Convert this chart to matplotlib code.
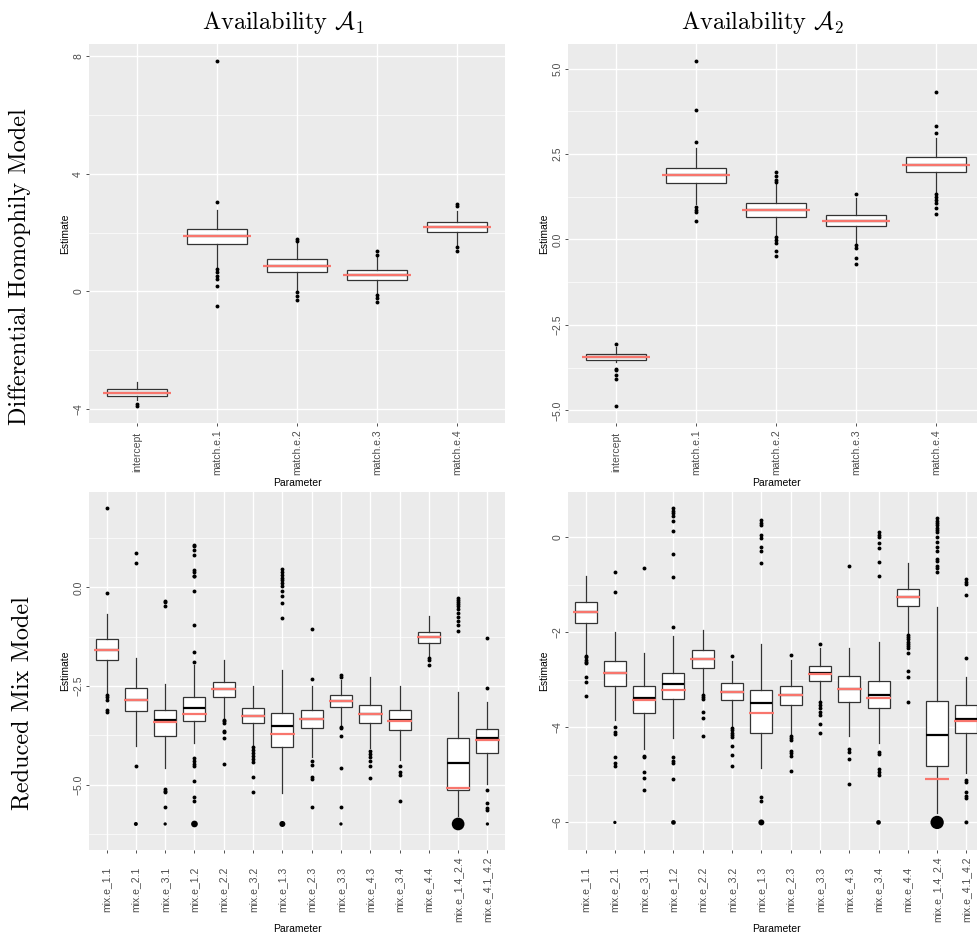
import matplotlib.pyplot as plt

plt.rcParams['mathtext.fontset'] = 'cm'
plt.rcParams['font.family'] = ['Liberation Sans', 'DejaVu Sans']

# ---------------- data ----------------
dh_names = ["intercept", "match.e.1", "match.e.2", "match.e.3", "match.e.4"]

# Differential homophily model, availability A1
a1_q1 = [-3.54, 1.61, 0.66, 0.40, 2.03]
a1_med = [-3.44, 1.88, 0.86, 0.56, 2.20]
a1_q3 = [-3.33, 2.12, 1.09, 0.73, 2.36]
a1_lo = [-3.70, 0.83, 0.03, -0.08, 1.56]
a1_hi = [-3.06, 2.78, 1.65, 1.17, 2.75]
a1_mean = [-3.44, 1.88, 0.86, 0.56, 2.20]
a1_fliers = [[-3.82, -3.88],
             [3.03, 7.82, 0.77, 0.66, 0.54, 0.43, 0.20, -0.48],
             [1.79, 1.73, -0.02, -0.17, -0.28],
             [1.36, 1.25, -0.11, -0.23, -0.36],
             [2.96, 2.90, 1.51, 1.36]]

# Differential homophily model, availability A2
a2_q1 = [-3.54, 1.65, 0.66, 0.38, 1.98]
a2_med = [-3.45, 1.88, 0.86, 0.55, 2.19]
a2_q3 = [-3.34, 2.10, 1.06, 0.73, 2.40]
a2_lo = [-3.58, 1.05, 0.13, -0.12, 1.35]
a2_hi = [-3.14, 2.67, 1.64, 1.20, 2.96]
a2_mean = [-3.45, 1.88, 0.86, 0.55, 2.19]
a2_fliers = [[-3.05, -3.78, -3.83, -3.97, -4.07, -4.86],
             [2.86, 3.79, 5.22, 0.96, 0.86, 0.81, 0.55],
             [1.96, 1.87, 1.74, 1.69, 0.06, -0.02, -0.09, -0.33, -0.48],
             [1.32, -0.17, -0.26, -0.53, -0.73],
             [3.11, 3.32, 4.31, 1.32, 1.25, 1.15, 1.08, 0.91, 0.74]]

mix_names = ["mix.e_1.1", "mix.e_2.1", "mix.e_3.1", "mix.e_1.2", "mix.e_2.2",
             "mix.e_3.2", "mix.e_1.3", "mix.e_2.3", "mix.e_3.3", "mix.e_4.3",
             "mix.e_3.4", "mix.e_4.4", "mix.e_1.4_2.4", "mix.e_4.1_4.2"]

# Reduced mix model, availability A1
b1_q1 = [-1.84, -3.14, -3.76, -3.38, -2.77, -3.44, -4.06, -3.57, -3.03, -3.45, -3.61, -1.40, -5.14, -4.19]
b1_med = [-1.58, -2.86, -3.37, -3.06, -2.57, -3.25, -3.52, -3.33, -2.88, -3.21, -3.36, -1.26, -4.46, -3.82]
b1_q3 = [-1.30, -2.56, -3.10, -2.78, -2.39, -3.06, -3.19, -3.10, -2.74, -2.99, -3.10, -1.13, -3.81, -3.59]
b1_lo = [-2.68, -4.01, -4.59, -3.95, -3.32, -4.01, -5.22, -4.29, -3.49, -4.08, -4.37, -1.75, -5.81, -4.98]
b1_hi = [-0.68, -1.79, -2.44, -1.96, -1.84, -2.51, -2.09, -2.50, -2.34, -2.28, -2.50, -0.72, -2.66, -2.91]
b1_mean = [-1.58, -2.86, -3.42, -3.21, -2.57, -3.25, -3.71, -3.33, -2.88, -3.21, -3.38, -1.26, -5.09, -3.88]
b1_fliers = [[-0.14, 2.01, -2.72, -2.77, -2.85, -3.10, -3.15],
             [0.88, 0.61, -4.54],
             [-0.34, -0.38, -0.48, -5.12, -5.16, -5.20, -5.58],
             [-1.88, -1.65, -0.96, -0.08, 0.28, 0.30, 0.40, 0.45, 0.83, 0.96, 1.05, 1.08,
              -4.33, -4.40, -4.48, -4.54, -4.92, -5.32, -5.41],
             [-3.36, -3.40, -3.44, -3.63, -3.67, -3.82, -4.48],
             [-4.04, -4.12, -4.20, -4.28, -4.36, -4.44, -4.80, -5.19],
             [-0.78, -0.40, -0.23, -0.10, 0.03, 0.10, 0.18, 0.25, 0.32, 0.40, 0.47],
             [-2.33, -1.05, -4.40, -4.50, -4.82, -4.86, -5.58],
             [-2.23, -2.28, -3.53, -3.57, -3.76, -4.58, -5.56],
             [-4.14, -4.22, -4.30, -4.40, -4.54, -4.84],
             [-4.52, -4.67, -4.75, -5.41],
             [-1.79, -1.84, -1.98],
             [-0.27, -0.32, -0.37, -0.42, -0.48, -0.55, -0.65, -0.75, -0.85, -0.95, -1.10],
             [-2.55, -1.29, -5.15, -5.46, -5.60, -5.64]]
# dot diameter (px) of the pile of estimates stuck at -6
b1_floor = [0, 4, 3.3, 6.7, 0, 0, 6, 0, 3.3, 0, 0, 0, 12.7, 3.3]

# Reduced mix model, availability A2
b2_q1 = [-1.81, -3.12, -3.69, -3.40, -2.76, -3.43, -4.11, -3.54, -3.02, -3.47, -3.59, -1.45, -4.81, -4.11]
b2_med = [-1.57, -2.85, -3.38, -3.09, -2.57, -3.25, -3.48, -3.33, -2.85, -3.20, -3.31, -1.26, -4.16, -3.82]
b2_q3 = [-1.36, -2.60, -3.12, -2.86, -2.38, -3.07, -3.22, -3.12, -2.72, -2.93, -3.02, -1.08, -3.45, -3.52]
b2_lo = [-2.48, -3.85, -4.46, -4.22, -3.28, -3.99, -4.86, -4.14, -3.42, -4.18, -4.32, -2.04, -5.81, -4.97]
b2_hi = [-0.81, -1.99, -2.44, -2.07, -1.96, -2.60, -2.25, -2.59, -2.34, -2.34, -2.21, -0.55, -1.47, -2.95]
b2_mean = [-1.57, -2.86, -3.42, -3.21, -2.57, -3.25, -3.69, -3.33, -2.88, -3.20, -3.39, -1.26, -5.08, -3.87]
b2_fliers = [[-2.50, -2.53, -2.58, -2.62, -2.65, -2.95, -3.05, -3.35],
             [-1.16, -0.73, -3.99, -4.09, -4.13, -4.62, -4.76, -4.81],
             [-0.65, -4.60, -4.62, -4.93, -5.07, -5.32],
             [-1.89, -0.83, -0.35, 0.14, 0.35, 0.44, 0.50, 0.55, 0.61, -4.62, -4.70, -4.76, -5.09],
             [-3.32, -3.37, -3.40, -3.68, -3.81, -4.18],
             [-2.49, -4.02, -4.06, -4.11, -4.16, -4.20, -4.39, -4.59, -4.81],
             [-0.55, -0.30, -0.20, -0.02, 0.05, 0.26, 0.30, 0.36, -5.46, -5.54],
             [-2.48, -4.18, -4.22, -4.27, -4.49, -4.54, -4.60, -4.92],
             [-2.25, -3.47, -3.52, -3.60, -3.67, -3.74, -3.93, -4.11],
             [-0.60, -4.46, -4.51, -4.67, -5.19],
             [-0.81, -0.53, -0.23, -0.13, 0.00, 0.05, 0.10, -4.51, -4.56, -4.88, -4.94, -5.00],
             [-2.06, -2.10, -2.15, -2.20, -2.24, -2.28, -2.34, -2.44, -2.81, -2.95, -3.46],
             [0.40, 0.35, 0.30, 0.25, 0.20, 0.15, 0.10, 0.00, -0.10, -0.20, -0.30, -0.45,
              -0.50, -0.60, -0.65, -0.74],
             [-2.54, -1.21, -0.88, -0.94, -0.99, -5.11, -5.16, -5.35, -5.45, -5.49]]
b2_floor = [0, 3.3, 0, 4.7, 0, 0, 6, 0, 0, 0, 4.7, 0, 13.3, 4]
floor_value = -6


def draw_panel(ax, names, q1, med, q3, lo, hi, mean, fliers, ylim,
               major, major_lab, minor, floor=None, xpad=18, xlabpad=3):
    ax.set_facecolor("#EBEBEB")
    for s in ax.spines.values():
        s.set_visible(False)
    pos = list(range(1, len(names) + 1))
    stats = []
    for i in range(len(names)):
        stats.append(dict(q1=q1[i], med=med[i], q3=q3[i], whislo=lo[i],
                          whishi=hi[i], fliers=fliers[i]))
    ax.bxp(stats, positions=pos, widths=0.75, showcaps=False, patch_artist=True,
           boxprops=dict(facecolor="white", edgecolor="#333333", lw=0.9),
           whiskerprops=dict(color="#333333", lw=0.9),
           medianprops=dict(color="black", lw=1.6),
           flierprops=dict(marker="o", markersize=1.8, markerfacecolor="black",
                           markeredgecolor="black", lw=0))
    # red reference line
    ax.hlines(mean, [p - 0.42 for p in pos], [p + 0.42 for p in pos],
              color="#F8766D", lw=1.6, zorder=5)
    if floor is not None:
        fx = [p for p, d in zip(pos, floor) if d > 0]
        fs = [(d * 0.72) ** 2 for d in floor if d > 0]
        ax.scatter(fx, [floor_value] * len(fx), s=fs, color="black", lw=0, zorder=4)

    ax.set_xlim(0.4, len(names) + 0.6)
    ax.set_ylim(*ylim)
    ax.set_yticks(major, labels=major_lab, rotation=90, va="center")
    ax.set_yticks(minor, minor=True)
    ax.set_xticks(pos, labels=names, rotation=90)
    plt.setp(ax.get_xticklabels(), va="center")
    ax.grid(which="major", color="white", lw=1.0)
    ax.grid(which="minor", axis="y", color="white", lw=0.5)
    ax.set_axisbelow(True)
    ax.tick_params(which="major", length=2.2, width=0.6, color="#333333",
                   labelsize=7.5, labelcolor="#4D4D4D")
    ax.tick_params(axis="y", pad=2)
    ax.tick_params(axis="x", pad=xpad)
    ax.tick_params(which="minor", length=0)
    ax.set_ylabel("Estimate", fontsize=7.5, labelpad=2)
    ax.set_xlabel("Parameter", fontsize=7.5, labelpad=xlabpad)


W, H = 977, 933
fig = plt.figure(figsize=(W / 100, H / 100), dpi=100)


def axes_px(left, top, right, bottom):
    return fig.add_axes([left / W, 1 - bottom / H, (right - left) / W, (bottom - top) / H])


ax_tl = axes_px(89, 44, 505, 423)
ax_tr = axes_px(568, 44, 984, 423)
ax_bl = axes_px(89, 492, 505, 850)
ax_br = axes_px(568, 492, 984, 850)

draw_panel(ax_tl, dh_names, a1_q1, a1_med, a1_q3, a1_lo, a1_hi, a1_mean, a1_fliers,
           (-4.47, 8.41), [-4, 0, 4, 8], ["\u22124", "0", "4", "8"], [-2, 2, 6],
           xpad=18.5, xlabpad=2.5)
draw_panel(ax_tr, dh_names, a2_q1, a2_med, a2_q3, a2_lo, a2_hi, a2_mean, a2_fliers,
           (-5.37, 5.72), [-5, -2.5, 0, 2.5, 5],
           ["\u22125.0", "\u22122.5", "0.0", "2.5", "5.0"], [-3.75, -1.25, 1.25, 3.75],
           xpad=18.5, xlabpad=2.5)
draw_panel(ax_bl, mix_names, b1_q1, b1_med, b1_q3, b1_lo, b1_hi, b1_mean, b1_fliers,
           (-6.66, 2.42), [-5, -2.5, 0], ["\u22125.0", "\u22122.5", "0.0"],
           [-6.25, -3.75, -1.25, 1.25], floor=b1_floor, xpad=26, xlabpad=1.5)
draw_panel(ax_br, mix_names, b2_q1, b2_med, b2_q3, b2_lo, b2_hi, b2_mean, b2_fliers,
           (-6.58, 0.95), [-6, -4, -2, 0], ["\u22126", "\u22124", "\u22122", "0"],
           [-5, -3, -1], floor=b2_floor, xpad=26, xlabpad=1.5)

fig.text(283 / W, 1 - 23 / H, r"Availability $\mathcal{A}_1$", family="cmr10",
         fontsize=17.5, ha="center", va="center")
fig.text(762 / W, 1 - 23 / H, r"Availability $\mathcal{A}_2$", family="cmr10",
         fontsize=17.5, ha="center", va="center")
fig.text(20 / W, 1 - 267 / H, "Differential Homophily Model", family="cmr10",
         fontsize=17.5, rotation=90, ha="center", va="center")
fig.text(22 / W, 1 - 703 / H, "Reduced Mix Model", family="cmr10",
         fontsize=17.5, rotation=90, ha="center", va="center")

fig.savefig("out.png", dpi=100)
